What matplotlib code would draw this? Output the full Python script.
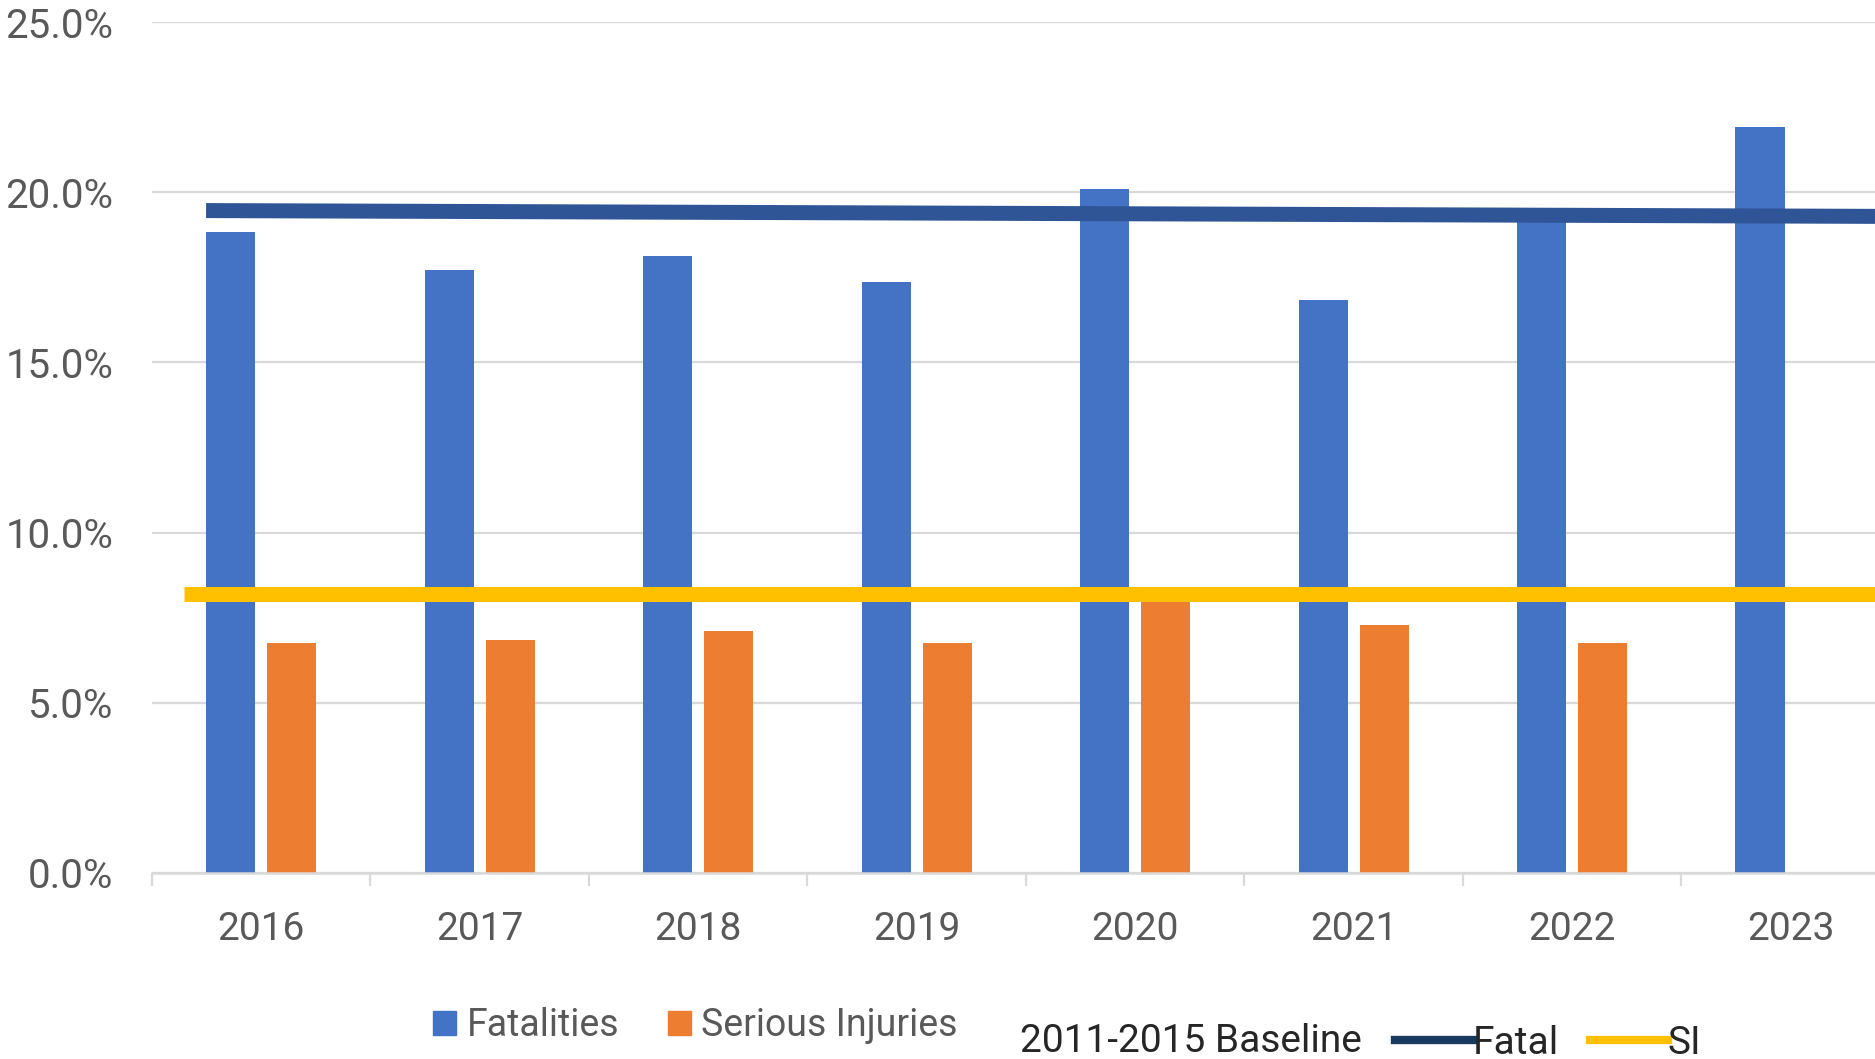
import numpy as np
import matplotlib.pyplot as plt
from matplotlib.patches import Patch
from matplotlib.lines import Line2D

## categories and values (percent)
years = ['2016', '2017', '2018', '2019', '2020', '2021', '2022', '2023']
fatalities = [18.82, 17.71, 18.12, 17.35, 20.09, 16.82, 19.30, 21.91]
serious_injuries = [6.76, 6.85, 7.11, 6.76, 8.00, 7.29, 6.76]   # no 2023 value
## 2011-2015 baseline lines (fatal line is drawn slightly tilted: start, end)
fatal_baseline = [19.46, 19.29]
si_baseline = [8.19, 8.19]
y_ticks = [0, 5, 10, 15, 20, 25]

BLUE = '#4472C4'
ORANGE = '#ED7D31'
NAVY = '#2F5597'
YELLOW = '#FFC000'
GREY = '#595959'
LIGHT = '#D9D9D9'

plt.rcParams['font.family'] = ['Roboto', 'DejaVu Sans']

W, H = 1875, 1059
fig = plt.figure(figsize=(W / 100, H / 100), dpi=100)
ax = fig.add_axes([152 / W, 1 - 873 / H, 1 - 152 / W, (873 - 22) / H])

x = np.arange(len(years))
bw = 0.225
off = 0.14
ax.bar(x - off, fatalities, width=bw, color=BLUE, zorder=2)
ax.bar(x[:len(serious_injuries)] + off, serious_injuries, width=bw, color=ORANGE, zorder=2)

# the chart is cut off on the right, part way through the 2023 category
x_right = 7.386
ax.plot([x[0] - off - bw / 2, x_right], fatal_baseline, color=NAVY, lw=10.8,
        solid_capstyle='butt', zorder=3)
ax.plot([x[0] - 0.354, x_right], si_baseline, color=YELLOW, lw=10.8,
        solid_capstyle='butt', zorder=3)

ax.set_yticks(y_ticks)
ax.set_yticklabels(['{:.1f}%'.format(v) for v in y_ticks])
ax.set_xticks(x)
ax.set_xticklabels(years)
ax.set_xticks(np.arange(-0.5, len(years), 1), minor=True)
# limits after the ticks, set_xticks would widen them otherwise
ax.set_xlim(-0.5, x_right)
ax.set_ylim(0, 25)

ax.yaxis.grid(True, color=LIGHT, lw=1.6)
ax.set_axisbelow(True)
for s in ['top', 'right', 'left']:
    ax.spines[s].set_visible(False)
ax.spines['bottom'].set_color(LIGHT)
ax.spines['bottom'].set_linewidth(1.8)

ax.tick_params(axis='y', length=0, pad=28, labelsize=29, labelcolor=GREY)
ax.tick_params(axis='x', which='major', length=0, pad=27, labelsize=28, labelcolor=GREY)
ax.tick_params(axis='x', which='minor', length=9.4, width=1.6, color=LIGHT)

# legend for the bars
fig.legend(handles=[Patch(color=BLUE, label='Fatalities'),
                    Patch(color=ORANGE, label='Serious Injuries')],
           loc='center left', bbox_to_anchor=(433 / W, 1 - 1026 / H), ncol=2,
           frameon=False, fontsize=27, labelcolor=GREY, handlelength=0.62,
           handleheight=0.6, handletextpad=0.27, columnspacing=1.3,
           borderpad=0, borderaxespad=0)

# baseline legend
fig.text(1020 / W, 1 - 1042 / H, '2011-2015 Baseline', fontsize=28,
         color='#262626', ha='left', va='center')
fig.legend(handles=[Line2D([], [], color='#173a5e', lw=6, label='Fatal'),
                    Line2D([], [], color=YELLOW, lw=6, label='SI')],
           loc='center left', bbox_to_anchor=(1395 / W, 1 - 1043 / H), ncol=2,
           frameon=False, fontsize=28, labelcolor='#262626', handlelength=2.0,
           handletextpad=0.0, columnspacing=0.8, borderpad=0, borderaxespad=0)

fig.savefig('out.png', dpi=100)
